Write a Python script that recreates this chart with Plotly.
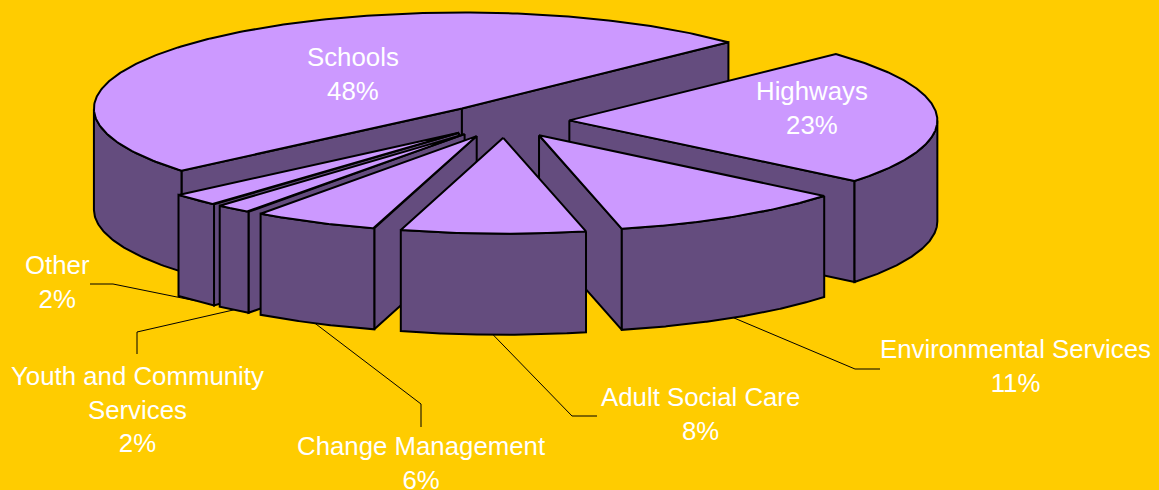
import numpy as np
import plotly.graph_objects as go

# Data (clockwise from the Highways start edge)
categories = ["Highways", "Environmental Services", "Adult Social Care", "Change Management",
              "Youth and Community<br>Services", "Other", "Schools"]
shares = [23.0, 10.5, 8.1, 5.5, 1.6, 2.2, 49.1]
percent_labels = ["23%", "11%", "8%", "6%", "2%", "2%", "48%"]

# Pie geometry / style
W, H = 1159, 490
CX, CY, A, B, DEPTH = 505, 121, 368, 96, 101
EXPLODE = 0.175
START = 43.6
BG, TOP, SIDE = "#FFCC00", "#CC99FF", "#644C7E"
LW = 2

label_pos = {0: (812, 108), 1: (1015, 366), 2: (700, 414), 3: (421, 463),
             4: (137, 409), 5: (57, 282), 6: (353, 74)}
# elbow points of the leader lines, label side first
leaders = {1: [(880, 369), (855, 369)], 2: [(597, 416), (572, 416)],
           3: [(421, 427), (421, 404)], 4: [(137, 354), (137, 332)],
           5: [(90, 284), (113, 284)]}
draw_order = [6, 0, 5, 4, 3, 1, 2]

fig = go.Figure()


def poly(x, y, color):
    fig.add_trace(go.Scatter(x=list(x) + [x[0]], y=list(y) + [y[0]], mode="lines",
                             fill="toself", fillcolor=color,
                             line=dict(color="black", width=LW, shape="linear"),
                             hoverinfo="skip", showlegend=False))


edges = START - np.cumsum([0] + shares) * 3.6
wedges = []
for i in range(len(shares)):
    a0, a1 = edges[i], edges[i + 1]   # clockwise: a0 > a1
    mid = np.radians((a0 + a1) / 2)
    ax = CX + EXPLODE * A * np.cos(mid)
    ay = CY - EXPLODE * B * np.sin(mid)
    wedges.append((a0, a1, mid, ax, ay))


def rim(ax, ay, deg):
    t = np.radians(deg)
    return ax + A * np.cos(t), ay - B * np.sin(t)


for i in draw_order:
    a0, a1, mid, ax, ay = wedges[i]
    # radial faces
    for edge, sign in ((a0, 1), (a1, -1)):
        px, py = rim(ax, ay, edge)
        dx, dy = px - ax, py - ay
        nx, ny = (-dy, dx) if sign == 1 else (dy, -dx)
        if ny * (-1) > 0:
            poly([ax, px, px, ax], [ay, py, py + DEPTH, ay + DEPTH], SIDE)
    # outer wall: the parts on the front half of the ellipse
    ts = np.linspace(a0, a1, 240)
    front = ts[np.sin(np.radians(ts)) <= 0]
    if len(front):
        wx, wy = rim(ax, ay, front)
        poly(list(wx) + list(wx[::-1]), list(wy) + list(wy[::-1] + DEPTH), SIDE)
    # top
    tx, ty = rim(ax, ay, ts)
    poly([ax] + list(tx), [ay] + list(ty), TOP)

# leader lines
for i, pts in leaders.items():
    a0, a1, mid, ax, ay = wedges[i]
    sx, sy = rim(ax, ay, np.degrees(mid))
    xs = [p[0] for p in pts] + [sx]
    ys = [p[1] for p in pts] + [sy + DEPTH]
    fig.add_trace(go.Scatter(x=xs, y=ys, mode="lines", line=dict(color="black", width=1),
                             hoverinfo="skip", showlegend=False))

# labels
for i, name in enumerate(categories):
    x, y = label_pos[i]
    fig.add_annotation(x=x, y=y, text=f"{name}<br>{percent_labels[i]}", showarrow=False,
                       font=dict(family="Liberation Sans, Arial, sans-serif", size=25.8, color="white"),
                       align="center", xanchor="center", yanchor="middle")

fig.update_layout(width=W, height=H, margin=dict(l=0, r=0, t=0, b=0),
                  paper_bgcolor=BG, plot_bgcolor=BG, showlegend=False,
                  xaxis=dict(range=[0, W], visible=False, fixedrange=True),
                  yaxis=dict(range=[H, 0], visible=False, fixedrange=True))
fig.write_html("out.html", config=dict(displayModeBar=False),
               post_script="document.body.style.margin='0';document.body.style.background='#FFCC00';")
